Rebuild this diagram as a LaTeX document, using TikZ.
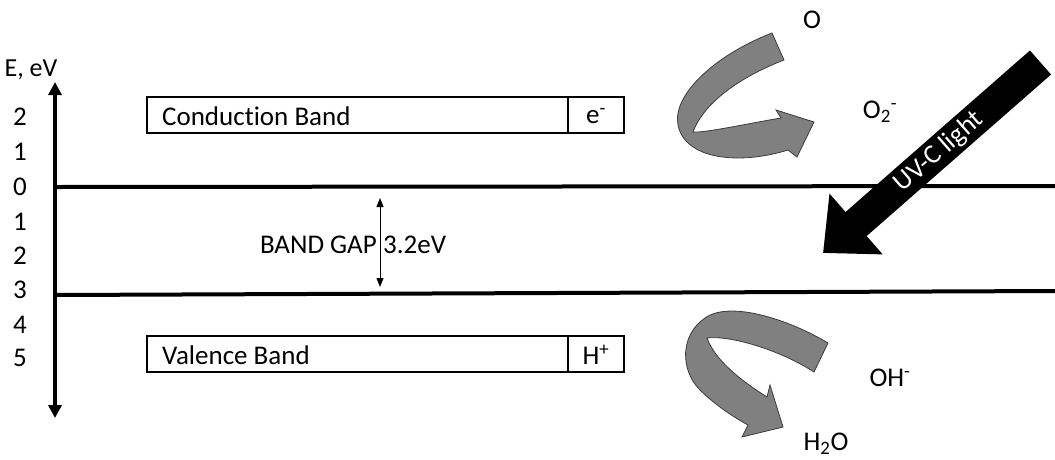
\documentclass[tikz,border=0pt]{standalone}
\usepackage{fontspec}
\setmainfont{Carlito}[Ligatures={NoCommon}]
\usetikzlibrary{arrows.meta}
\definecolor{ribfill}{RGB}{128,128,128}
\definecolor{ribedge}{RGB}{60,60,60}
\tikzset{
  lbl/.style={inner sep=0pt, font=\fontsize{27}{31}\selectfont},
  thickline/.style={line width=4pt},
  bandbox/.style={draw, line width=1.2pt},
  ribbon/.style={fill=ribfill, draw=ribedge, line width=0.8pt},
}
\begin{document}
\begin{tikzpicture}[x=1pt,y=-1pt]
\useasboundingbox (0,0) rectangle (1055,459);
% axis
\coordinate (axT) at (55,82);
\coordinate (axB) at (55,418);
\draw[thickline,{Triangle[width=13pt,length=13pt]}-{Triangle[width=13pt,length=13pt]}] (axB) -- (axT);
\node[lbl,font=\fontsize{26}{30}\selectfont] (elab) at (31,70) {E, eV};
\foreach \v/\y/\n in {2/117/a,1/152/b,0/187/c,1/222/d,2/256/e,3/290/f,4/325/g,5/358/h}
  \node[lbl] (num\n) at (20,\y) {\v};
% band lines
\coordinate (l1a) at (55,187);
\coordinate (l1b) at (1055,186);
\coordinate (l2a) at (55,295);
\coordinate (l2b) at (1055,291);
\draw[thickline] (l1a) -- (l1b);
\draw[thickline] (l2a) -- (l2b);
% conduction band box
\draw[bandbox] (147,97) rectangle (624,133);
\draw[bandbox] (568,97) -- (568,133);
\node[lbl,anchor=west] (cb) at (162,116) {Conduction Band};
\node[lbl] (em) at (596,116) {e\textsuperscript{-}};
% valence band box
\draw[bandbox] (147,336) rectangle (624,372);
\draw[bandbox] (568,336) -- (568,372);
\node[lbl,anchor=west] (vb) at (162,355) {Valence Band};
\node[lbl] (hp) at (596,355) {H\textsuperscript{+}};
% band gap
\coordinate (bgT) at (380,198);
\coordinate (bgB) at (380,287);
\draw[line width=1pt,{Triangle[width=7pt,length=9pt]}-{Triangle[width=7pt,length=9pt]}] (bgB) -- (bgT);
\node[lbl,anchor=east] (bg1) at (377,245) {BAND GAP};
\node[lbl,anchor=west] (bg2) at (383,245) {3.2eV};
% UV-C light arrow
\coordinate (uvTail) at (1040.5,62.5);
\coordinate (uvTip) at (823,253);
\draw[line width=32pt,-{Triangle[length=44pt,width=78pt]}] (uvTail) -- (uvTip);
\node[lbl,text=white,rotate=41.2] (uvtxt) at (939,152) {UV-C light};
% upper ribbon arrow
\path[ribbon] (772,33) .. controls (715,55) and (672,95) .. (678,125)
  .. controls (685,160) and (740,165) .. (788,150) -- (797,157) -- (814,122) -- (776,110) -- (781,118)
  .. controls (745,124) and (705,133) .. (693,132)
  .. controls (705,100) and (745,75) .. (784,60) -- cycle;
\node[lbl] (o) at (812,20) {O};
\node[lbl] (o2) at (880,112) {O\textsubscript{2}\textsuperscript{-}};
% lower ribbon arrow
\path[ribbon] (828,343) .. controls (790,320) and (730,300) .. (705,318)
  .. controls (680,335) and (680,370) .. (700,390)
  .. controls (715,405) and (735,418) .. (748,425) -- (742,437) -- (783,427) -- (770,385) -- (767,397)
  .. controls (740,380) and (715,360) .. (707,338)
  .. controls (730,335) and (780,350) .. (814,372) -- cycle;
\node[lbl] (oh) at (890,378) {OH\textsuperscript{-}};
\node[lbl] (h2o) at (826,444) {H\textsubscript{2}O};
\end{tikzpicture}
\end{document}
